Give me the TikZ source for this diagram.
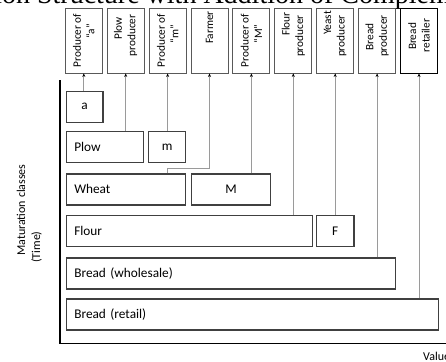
\documentclass[tikz,border=0pt]{standalone}
\usepackage{fontspec}
\setmainfont{Carlito}
\newfontfamily\titlefont{Liberation Serif}
\usetikzlibrary{arrows.meta}
\definecolor{boxgray}{HTML}{404040}
\definecolor{topgray}{HTML}{595959}
\definecolor{linegray}{HTML}{9A9A9A}
\newcommand\upby[2]{\hspace*{#1pt}\hspace*{#1pt}#2}
\tikzset{
  topbox/.style={draw=#1, line width=0.9pt, rotate=90, minimum width=65pt,
    minimum height=37pt, inner sep=0pt, align=center,
    font=\fontsize{11.3}{13.5}\selectfont},
  topbox/.default=topgray,
  lbox/.style={draw=boxgray, line width=1.2pt, anchor=north west,
    minimum height=31pt, inner xsep=8pt, inner ysep=0pt, text width=#1,
    align=left, font=\fontsize{13.3}{15}\selectfont},
  cbox/.style={draw=boxgray, line width=1.2pt, anchor=north west,
    minimum height=31pt, minimum width=#1, inner sep=0pt,
    font=\fontsize{13.3}{15}\selectfont},
  conn/.style={draw=linegray, line width=0.8pt,
    -{Stealth[length=3.5pt,width=3pt,black]}},
  axis/.style={line width=1.6pt, black},
  axlabel/.style={rotate=90, anchor=base west, inner sep=0pt,
    font=\fontsize{12}{14}\selectfont},
}
\begin{document}
\begin{tikzpicture}[x=1pt,y=-1pt]
\useasboundingbox (0,0) rectangle (446,361);
\clip (0,0) rectangle (446,361);

% cropped title
\node[anchor=base west, inner sep=0pt, font=\titlefont\fontsize{28}{30}\selectfont] (title) at (-93,4)
  {Production Structure with Addition of Complementary Goods};

% producers (top)
\node[topbox] (t1) at (83.8,40.5) {Producer of\\\upby{9}{“a”}};
\node[topbox] (t2) at (125.7,40.5) {\upby{12}{Plow}\\\upby{5}{producer}};
\node[topbox] (t3) at (167.6,40.5) {Producer of\\\upby{6.5}{“m”}};
\node[topbox] (t4) at (209.5,40.5) {\upby{13}{Farmer}};
\node[topbox] (t5) at (251.4,40.5) {Producer of\\\upby{6.5}{“M”}};
\node[topbox] (t6) at (293.3,40.5) {\upby{16.5}{Flour}\\\upby{4.5}{producer}};
\node[topbox] (t7) at (335.2,40.5) {\upby{17.5}{Yeast}\\\upby{4.5}{producer}};
\node[topbox] (t8) at (377.1,40.5) {\upby{3.5}{Bread}\\\upby{4.5}{producer}};
\node[topbox=black] (t9) at (419,40.5) {\upby{4}{Bread}\\\upby{5}{retailer}};

% goods (maturation classes)
\node[cbox=36.6] (a) at (65.7,90.7) {a};
\node[lbox=61] (plow) at (65.7,130.7) {Plow};
\node[cbox=37] (m) at (148,130.7) {m};
\node[lbox=103.3] (wheat) at (65.7,173.3) {Wheat};
\node[cbox=79.3] (M) at (190.7,173.3) {M};
\node[lbox=230] (flour) at (65.7,215) {Flour};
\node[cbox=37.3] (F) at (316,215) {F};
\node[lbox=313.3] (bw) at (65.7,257.3) {Bread (wholesale)};
\node[lbox=356] (br) at (65.7,298.3) {Bread (retail)};

% connectors
\draw[conn] (t1.west |- a.north) -- (t1.west);
\draw[conn] (t2.west |- plow.north) -- (t2.west);
\draw[conn] (t3.west |- m.north) -- (t3.west);
\draw[conn] (t3.west |- wheat.north) -- ++(0,-5) -| (t4.west);
\draw[conn] (t5.west |- M.north) -- (t5.west);
\draw[conn] (t6.west |- flour.north) -- (t6.west);
\draw[conn] (t7.west |- F.north) -- (t7.west);
\draw[conn] (t8.west |- bw.north) -- (t8.west);
\draw[conn] (t9.west |- br.north) -- (t9.west);

% axes
\coordinate (ytop) at (60,80);
\coordinate (origin) at (60,343.3);
\coordinate (xend) at (450,343.3);
\draw[axis] (ytop) -- (origin) -- (xend);

\node[axlabel] (ylab1) at (25,256) {Maturation classes};
\node[axlabel] (ylab2) at (40,263) {(Time)};
\node[anchor=base west, inner sep=0pt, font=\fontsize{12}{14}\selectfont] (xlab) at (423,360) {Value};
\end{tikzpicture}
\end{document}
